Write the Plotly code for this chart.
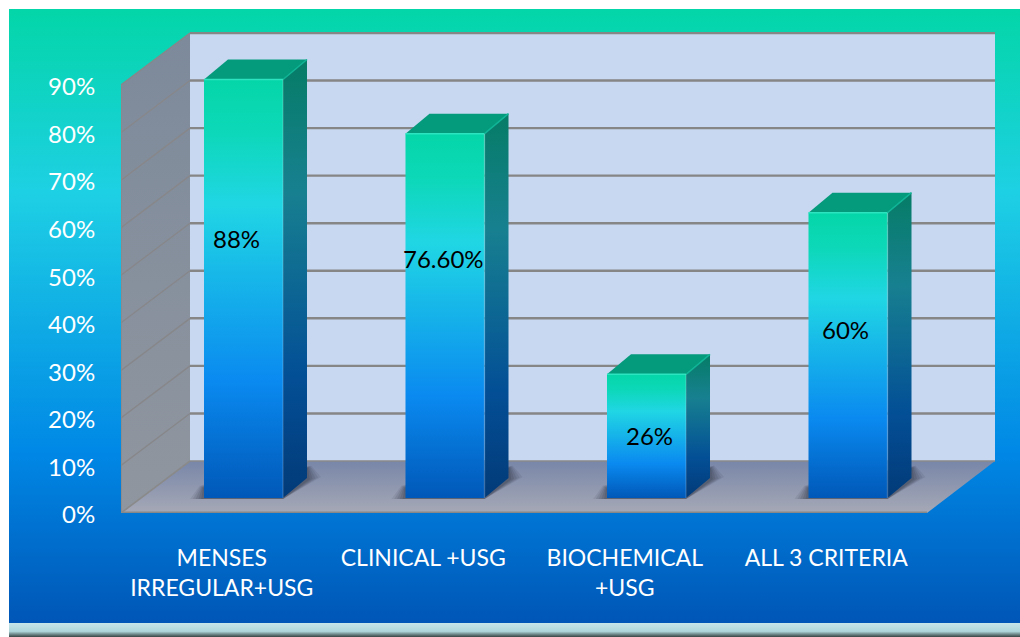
import plotly.graph_objects as go

# ---------- data ----------
categories = ["MENSES<br>IRREGULAR+USG", "CLINICAL +USG", "BIOCHEMICAL<br>+USG", "ALL 3 CRITERIA"]
values = [88, 76.6, 26, 60]
value_labels = ["88%", "76.60%", "26%", "60%"]
y_ticks = [0, 10, 20, 30, 40, 50, 60, 70, 80, 90]
y_tick_labels = ["0%", "10%", "20%", "30%", "40%", "50%", "60%", "70%", "80%", "90%"]

# ---------- layout constants ----------
W, H = 1020, 637
PX_L, PX_R, PX_T, PX_B = 121, 995, 32, 513
CAT_PX = 201.5
X0 = -0.5
X1 = X0 + (PX_R - PX_L) / CAT_PX
PCT_PX = 4.756
Y1 = (PX_B - PX_T) / PCT_PX
DX = 69 / CAT_PX        # wall depth
DY = 52 / PCT_PX
FRONT_END = X0 + (927 - PX_L) / CAT_PX
BAR_W = 79 / CAT_PX
BAR_OFF = 21.75 / CAT_PX
BAR_LIFT = 15 / PCT_PX
SIDE_X = 24 / CAT_PX
SIDE_Y = 20 / PCT_PX
LABEL_PX = [(236, 238), (443, 258), (649, 435), (845, 329)]

FONT = "Lato, Carlito, Calibri, sans-serif"

FRONT_SCALE = [[0, "#05d6a8"], [0.12, "#0cd8b8"], [0.30, "#20d6e4"], [0.72, "#0a8af0"], [1, "#0058b8"]]
SIDE_SCALE = [[0, "#067c66"], [0.30, "#178090"], [0.72, "#034f96"], [1, "#023a78"]]
PANEL_SCALE = [[0, "#03d6a8"], [0.30, "#1ed0e4"], [0.72, "#0088e6"], [1, "#0056b6"]]
BAND_SCALE = [[0, "#c6e6ea"], [0.6, "#aed6da"], [0.8, "#6f8a8c"], [1, "#3a4444"]]
FLOOR_SCALE = [[0, "#7886a8"], [1, "#a6a9b6"]]
WALL_SCALE = [[0, "#7d8a9b"], [1, "#90969f"]]

fig = go.Figure()


def grad_poly(xs, ys, scale, xa, ya):
    top, bot = max(ys), min(ys)
    if ya == "y":  # reversed pixel axis
        top, bot = min(ys), max(ys)
    fig.add_trace(go.Scatter(
        x=list(xs) + [xs[0]], y=list(ys) + [ys[0]], xaxis=xa, yaxis=ya, mode="lines",
        line=dict(width=0), fill="toself",
        fillgradient=dict(type="vertical", colorscale=scale, start=top, stop=bot),
        hoverinfo="skip", showlegend=False))


def flat_poly(xs, ys, color):
    fig.add_trace(go.Scatter(
        x=list(xs) + [xs[0]], y=list(ys) + [ys[0]], xaxis="x2", yaxis="y2", mode="lines",
        line=dict(width=0), fill="toself", fillcolor=color,
        hoverinfo="skip", showlegend=False))


def line(xs, ys, color, width):
    fig.add_trace(go.Scatter(
        x=xs, y=ys, xaxis="x2", yaxis="y2", mode="lines",
        line=dict(color=color, width=width), hoverinfo="skip", showlegend=False))


# --- page panel on the pixel axes
grad_poly([9, W, W, 9], [9, 9, 623, 623], PANEL_SCALE, "x", "y")
grad_poly([9, W, W, 9], [623, 623, H, H], BAND_SCALE, "x", "y")

# --- chart box
top = y_ticks[-1]
BX = X0 + DX
flat_poly([BX, X1, X1, BX], [DY, DY, Y1, Y1], "#c7d8f0")
grad_poly([X0, BX, BX, X0], [0, DY, top + DY, top], WALL_SCALE, "x2", "y2")
for t in y_ticks[1:]:
    line([BX, X1], [t + DY, t + DY], "#868686", 2.4)
    line([X0, BX], [t, t + DY], "#87878a", 1.4)
grad_poly([X0, FRONT_END, X1, BX], [0, 0, DY, DY], FLOOR_SCALE, "x2", "y2")
line([BX, X1], [DY, DY], "#8a8a8a", 1.6)
line([X0, FRONT_END], [0, 0], "#888888", 3)
line([X0, X0, BX], [top, 0, DY], "#8a8a8a", 1.6)

# --- bars
for i, v in enumerate(values):
    l = i + BAR_OFF - BAR_W / 2
    r = l + BAR_W
    b = BAR_LIFT
    t = b + v
    # soft shadow on the floor, behind the bar
    for grow, a in ((1.0, 0.10), (0.8, 0.12), (0.6, 0.14), (0.4, 0.16), (0.2, 0.18)):
        sx = grow * 14 / CAT_PX
        up = 0.6 + grow * 0.6
        flat_poly([l - sx, r, r + SIDE_X + sx, r + SIDE_X + sx * .3, l + SIDE_X, l - sx * .3],
                  [b - 0.2, b - 0.2, b + SIDE_Y + up - 1, b + SIDE_Y + up + 1.4, b + SIDE_Y, b + up + 1.4],
                  f"rgba(45,50,65,{a})")
    grad_poly([r, r + SIDE_X, r + SIDE_X, r], [b, b + SIDE_Y, t + SIDE_Y, t], SIDE_SCALE, "x2", "y2")
    flat_poly([l, r, r + SIDE_X, l + SIDE_X], [t, t, t + SIDE_Y, t + SIDE_Y], "#049a7c")
    grad_poly([l, r, r, l], [b, b, t, t], FRONT_SCALE, "x2", "y2")
    line([l, r], [t, t], "#2ce4c0", 1.5)
    line([r, r + SIDE_X], [t, t + SIDE_Y], "#10b496", 1.5)
    line([r, r], [b, t], "rgba(255,255,255,0.16)", 1.5)

# --- value labels
for txt, (px, py) in zip(value_labels, LABEL_PX):
    fig.add_annotation(x=px, y=py, xref="x", yref="y", text=txt, showarrow=False,
                       font=dict(family=FONT, size=24, color="#000000"))

hidden = dict(visible=False, fixedrange=True, automargin=False)
fig.update_layout(
    width=W, height=H, margin=dict(l=0, r=0, t=0, b=0), autosize=False,
    paper_bgcolor="#ffffff", plot_bgcolor="rgba(0,0,0,0)", showlegend=False,
    xaxis=dict(domain=[0, 1], range=[0, W], **hidden),
    yaxis=dict(domain=[0, 1], range=[H, 0], **hidden),
    xaxis2=dict(domain=[PX_L / W, PX_R / W], range=[X0, X1], anchor="y2", tickmode="array",
                tickvals=list(range(len(categories))), ticktext=categories, showgrid=False,
                zeroline=False, showline=False, ticks="outside", ticklen=24, automargin=False,
                tickcolor="rgba(0,0,0,0)", fixedrange=True,
                tickfont=dict(family=FONT, size=23, color="#ffffff")),
    yaxis2=dict(domain=[1 - PX_B / H, 1 - PX_T / H], range=[0, Y1], anchor="x2", tickmode="array",
                tickvals=y_ticks, ticktext=y_tick_labels, showgrid=False, zeroline=False,
                showline=False, ticks="outside", ticklen=20, tickcolor="rgba(0,0,0,0)", automargin=False,
                ticklabelshift=2, fixedrange=True, tickfont=dict(family=FONT, size=24, color="#ffffff")),
)

fig.write_html("out.html", config={"displayModeBar": False},
               post_script="document.body.style.margin='0';document.body.style.overflow='hidden';")
